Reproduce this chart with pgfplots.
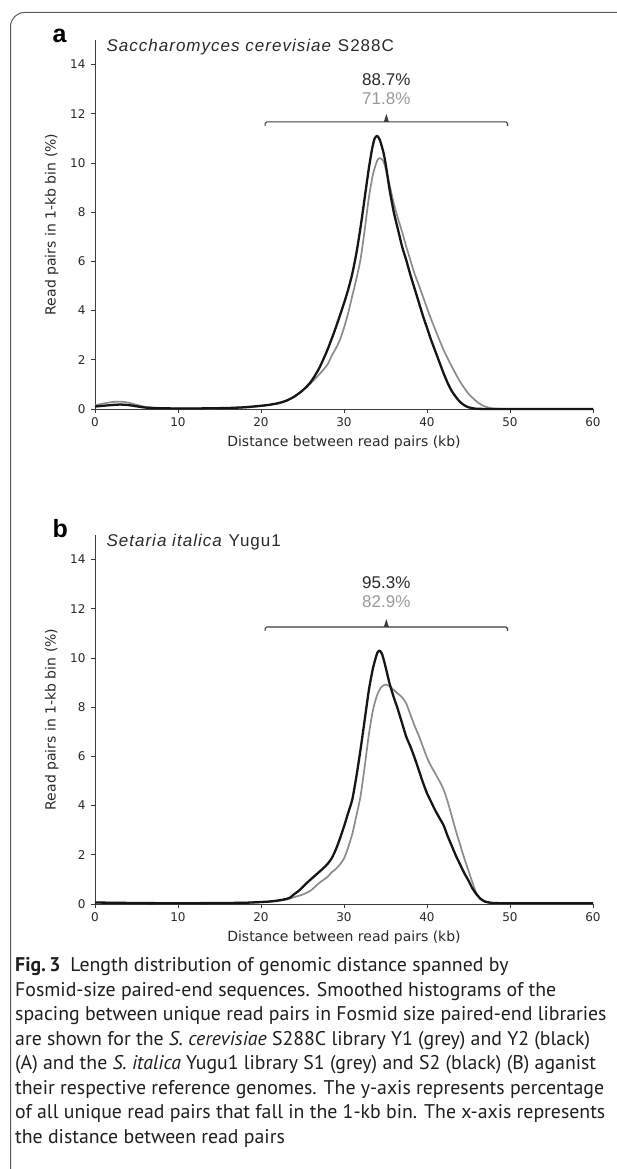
\documentclass[border=0pt]{standalone}
\usepackage{fontspec}
\usepackage{pgfplots}
\pgfplotsset{compat=1.18}
\usepackage{pgfplotstable}
\newfontfamily\dejavu{DejaVu Sans}
\newfontfamily\libsans{Liberation Sans}
\newfontfamily\titlefont[LetterSpace=6]{Liberation Sans}
\newfontfamily\capfont{PT Sans}
\definecolor{axisgray}{HTML}{3C3C3C}
\definecolor{labgray}{HTML}{2A2A2A}
\definecolor{curveblack}{HTML}{161616}
\definecolor{curvegrey}{HTML}{8C8C8C}
\definecolor{pctgrey}{HTML}{9A9A9A}
\definecolor{framegray}{HTML}{5A5A5A}

% panel a: S. cerevisiae S288C, Y2 (black) and Y1 (grey)
\pgfplotstableread{
kb val
0 0.10
1 0.13
2 0.16
3 0.18
4 0.16
5 0.11
6 0.06
7 0.04
8 0.03
10 0.02
12 0.02
14 0.03
16 0.04
18 0.07
20 0.13
21 0.17
22 0.23
23 0.33
24 0.50
25 0.75
26 1.10
27 1.65
28 2.40
29 3.30
30 4.30
30.5 4.85
31 5.50
31.5 6.35
32 7.40
32.5 8.60
33 9.80
33.4 10.60
33.7 11.00
34.0 11.10
34.3 10.95
34.7 10.50
35 10.00
35.5 8.90
36 8.00
36.5 7.30
37 6.60
37.5 6.05
38 5.45
38.5 4.90
39 4.35
39.5 3.80
40 3.30
40.5 2.80
41 2.35
41.5 1.90
42 1.45
42.5 1.05
43 0.72
43.5 0.48
44 0.28
44.5 0.15
45 0.07
45.5 0.03
46 0.01
48 0.00
60 0.00
}\ablack
\pgfplotstableread{
kb val
0 0.15
1 0.22
2 0.28
3 0.30
4 0.26
5 0.17
6 0.09
7 0.05
8 0.03
10 0.02
14 0.02
18 0.06
20 0.12
22 0.22
23 0.33
24 0.50
25 0.75
26 1.05
27 1.40
28 1.80
28.5 2.15
29 2.45
29.5 2.80
30 3.30
30.5 3.90
31 4.60
31.5 5.30
32 6.10
32.5 7.30
33 8.60
33.5 9.55
34 10.10
34.3 10.20
34.7 10.10
35 9.80
35.5 9.10
36 8.35
36.5 7.75
37 7.20
37.5 6.60
38 6.05
38.5 5.50
39 5.05
39.5 4.58
40 4.10
40.5 3.65
41 3.22
41.5 2.80
42 2.40
42.5 2.05
43 1.72
43.5 1.40
44 1.10
44.5 0.85
45 0.62
45.5 0.45
46 0.30
46.5 0.18
47 0.10
47.5 0.05
48 0.02
50 0.00
60 0.00
}\agrey

% panel b: S. italica Yugu1, S2 (black) and S1 (grey)
\pgfplotstableread{
kb val
0 0.06
5 0.04
10 0.03
15 0.04
18 0.05
20 0.08
21 0.10
22 0.14
23 0.20
23.5 0.26
24 0.40
24.5 0.52
25 0.68
25.5 0.85
26 1.00
26.5 1.15
27 1.30
27.5 1.45
28 1.62
28.5 1.85
29 2.20
29.5 2.65
30 3.15
30.5 3.70
31 4.25
31.5 5.20
32 6.30
32.5 7.50
33 8.70
33.5 9.60
34 10.20
34.3 10.30
34.6 10.15
35 9.65
35.5 8.95
36 8.40
36.5 7.90
37 7.35
37.5 6.80
38 6.40
38.5 5.95
39 5.45
39.5 4.95
40 4.50
40.5 4.15
41 3.80
41.5 3.50
42 3.20
42.5 2.75
43 2.35
43.5 1.95
44 1.60
44.5 1.25
45 0.95
45.5 0.62
46 0.38
46.5 0.20
47 0.10
47.5 0.06
48 0.04
50 0.03
60 0.03
}\bblack
\pgfplotstableread{
kb val
0 0.05
5 0.04
10 0.03
15 0.04
18 0.05
20 0.07
22 0.12
23 0.18
24 0.28
25 0.38
26 0.55
27 0.85
28 1.10
28.5 1.28
29 1.42
29.5 1.60
30 1.85
30.5 2.30
31 2.85
31.5 3.60
32 4.40
32.5 5.60
33 6.90
33.5 7.90
34 8.50
34.5 8.82
35 8.92
35.5 8.85
36 8.70
36.5 8.55
37 8.40
37.5 8.15
38 7.70
38.5 7.25
39 6.85
39.5 6.40
40 5.95
40.5 5.60
41 5.30
41.5 5.00
42 4.65
42.5 4.15
43 3.55
43.5 2.95
44 2.40
44.5 1.85
45 1.35
45.5 0.85
46 0.40
46.5 0.18
47 0.08
48 0.03
50 0.02
60 0.02
}\bgrey

\pgfplotsset{
  panel/.style={
    scale only axis, width=498pt, height=369pt,
    anchor=south west,
    xmin=0, xmax=60, ymin=0, ymax=15,
    axis x line=bottom, axis y line=left,
    axis line style={-, line width=0.9pt, color=axisgray},
    xtick={0,10,...,60}, ytick={0,2,...,14},
    tick align=outside, major tick length=4pt,
    tick style={line width=0.9pt, color=axisgray},
    ticklabel style={font=\dejavu\fontsize{12}{14}\selectfont, text=labgray},
    yticklabel style={xshift=-2pt},
    xticklabel style={yshift=-1.5pt},
    /pgf/number format/assume math mode=true,
    xlabel={Distance between read pairs (kb)},
    ylabel={Read pairs in 1-kb bin (\%)},
    every axis x label/.style={at={(axis description cs:0.5,-0.09)}, anchor=center},
    every axis y label/.style={at={(axis description cs:-0.087,0.5)}, rotate=90, anchor=center},
    label style={font=\dejavu\fontsize{14}{16}\selectfont, text=labgray},
    clip=false,
  },
  greyline/.style={color=curvegrey, line width=1.7pt, line join=round, smooth, tension=0.4},
  blackline/.style={color=curveblack, line width=2.3pt, line join=round, smooth, tension=0.4},
}

\newcommand{\bracket}[1]{% y of the bar
  \draw[color=axisgray, line width=1.1pt, rounded corners=1.5pt]
    ([yshift=-4pt]axis cs:20.5,#1) -- (axis cs:20.5,#1) -- (axis cs:49.7,#1) -- ([yshift=-4pt]axis cs:49.7,#1);
  \fill[color=axisgray] ([xshift=-2.5pt]axis cs:35.1,#1) -- ([yshift=8pt]axis cs:35.1,#1) -- ([xshift=2.5pt]axis cs:35.1,#1) -- cycle;
}

\begin{document}
\begin{tikzpicture}
\useasboundingbox (0,0) rectangle (617pt,1169pt);
\clip (0,0) rectangle (617pt,1169pt);
\fill[white] (0,0) rectangle (617pt,1169pt);
\draw[color=framegray, line width=1pt, rounded corners=14pt]
  (10.5pt,-5pt) -- (10.5pt,1156.5pt) -- (625pt,1156.5pt);

% panel a
\node[anchor=base west, font=\libsans\bfseries\fontsize{25}{28}\selectfont] at (49pt,1126pt) {a};
\node[anchor=base west, font=\titlefont\fontsize{17}{20}\selectfont, text=labgray] at (103pt,1117pt) {\textit{Saccharomyces cerevisiae} S288C};
\begin{axis}[panel, at={(95pt,760pt)}]
\addplot[greyline] table[x=kb, y=val] {\agrey};
\addplot[blackline] table[x=kb, y=val] {\ablack};
\bracket{11.67}
\node[font=\libsans\fontsize{17}{19}\selectfont, text=labgray] at (axis cs:35.1,13.37) {88.7\%};
\node[font=\libsans\fontsize{17}{19}\selectfont, text=pctgrey] at (axis cs:35.1,12.62) {71.8\%};
\end{axis}

% panel b
\node[anchor=base west, font=\libsans\bfseries\fontsize{25}{28}\selectfont] at (49pt,631pt) {b};
\node[anchor=base west, font=\titlefont\fontsize{17}{20}\selectfont, text=labgray] at (103pt,622pt) {\textit{Setaria italica} Yugu1};
\begin{axis}[panel, at={(95pt,265pt)}]
\addplot[greyline] table[x=kb, y=val] {\bgrey};
\addplot[blackline] table[x=kb, y=val] {\bblack};
\bracket{11.26}
\node[font=\libsans\fontsize{17}{19}\selectfont, text=labgray] at (axis cs:35.1,13.05) {95.3\%};
\node[font=\libsans\fontsize{17}{19}\selectfont, text=pctgrey] at (axis cs:35.1,12.28) {82.9\%};
\end{axis}

% caption
\begin{scope}[every node/.style={anchor=base west, inner sep=0pt, font=\capfont\fontsize{19.8}{23}\selectfont, text=black!88}]
\node at (15pt,197pt) {\textbf{Fig.\,3}\enspace Length distribution of genomic distance spanned by};
\node at (15pt,172.5pt) {Fosmid-size paired-end sequences. Smoothed histograms of the};
\node at (15pt,148pt) {spacing between unique read pairs in Fosmid size paired-end libraries};
\node at (15pt,123.5pt) {are shown for the \textit{S. cerevisiae} S288C library Y1 (grey) and Y2 (black)};
\node at (15pt,99pt) {(A) and the \textit{S. italica} Yugu1 library S1 (grey) and S2 (black) (B) aganist};
\node at (15pt,74.5pt) {their respective reference genomes. The y-axis represents percentage};
\node at (15pt,50pt) {of all unique read pairs that fall in the 1-kb bin. The x-axis represents};
\node at (15pt,25.5pt) {the distance between read pairs};
\end{scope}
\end{tikzpicture}
\end{document}
